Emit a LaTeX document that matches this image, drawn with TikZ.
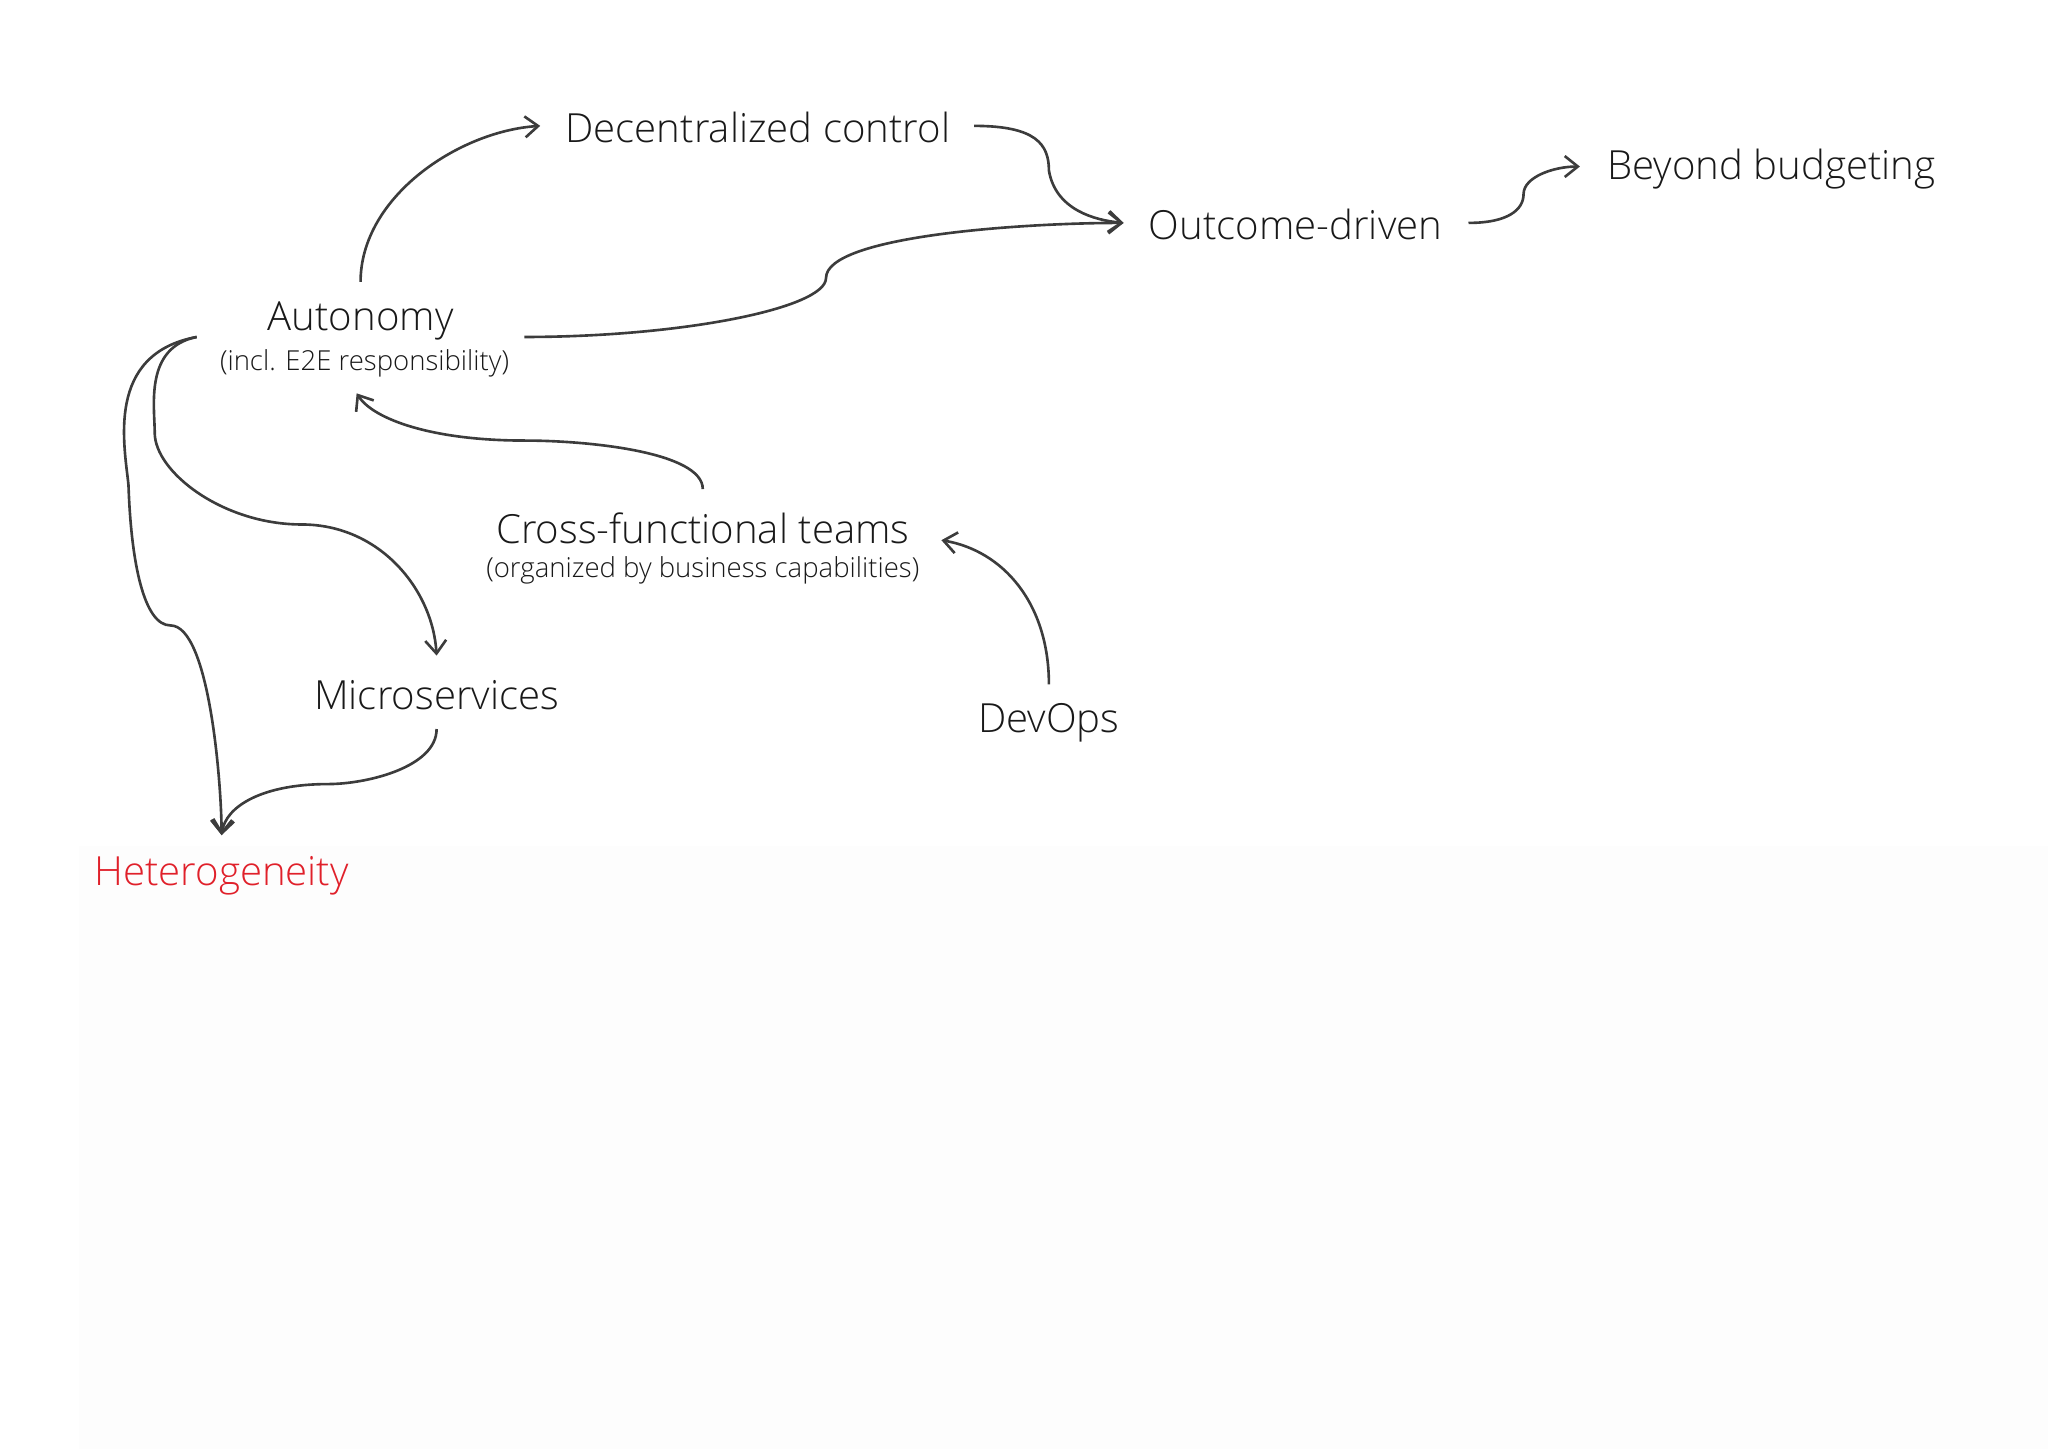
\documentclass[tikz,border=0pt]{standalone}
\usepackage{fontspec}
\setmainfont{Open Sans Light}[BoldFont={Open Sans}]
\usetikzlibrary{arrows.meta}
\definecolor{ln}{HTML}{3C3C3C}
\definecolor{hred}{HTML}{E0202A}
\tikzset{
 lbl/.style={font=\fontsize{15.3}{17}\selectfont, text=black!90, inner sep=1pt},
 sub/.style={font=\fontsize{10.5}{12}\selectfont, text=black!90, inner sep=1pt},
 con/.style={draw=ln, line width=1pt, -{Straight Barb[length=5pt,width=8pt,line width=1pt]}},
}
\begin{document}
\begin{tikzpicture}[x=0.5pt,y=-0.5pt]
\useasboundingbox (0,0) rectangle (1562,1105);
\fill[black!0.8] (60,645) rectangle (1562,1105);
\node[lbl] (dec) at (578,97) {Decentralized control};
\node[lbl] (out) at (988,171) {Outcome-driven};
\node[lbl] (bey) at (1351,129) {Beyond budgeting};
\node[lbl] (aut) at (275,245) {Autonomy};
\node[sub] (auts) at (278,277) {(incl. E2E responsibility)};
\node[lbl] (cft) at (536,403) {Cross-functional teams};
\node[sub] (cfts) at (536,435) {(organized by business capabilities)};
\node[lbl] (mic) at (333,530) {Microservices};
\node[lbl] (dev) at (800,551) {DevOps};
\node[lbl,text=hred] (het) at (169,668) {Heterogeneity};
\coordinate (autT) at (275,215);
\coordinate (autR) at (400,257);
\coordinate (autL) at (150,257);
\coordinate (decL) at (412,96);
\coordinate (decR) at (743,96);
\coordinate (outL) at (857,170);
\coordinate (outR) at (1120,170);
\coordinate (beyL) at (1205,127);
\coordinate (cftT) at (536,373);
\coordinate (autB) at (272,300);
\coordinate (devT) at (800,522);
\coordinate (cftR) at (718,412);
\coordinate (micT) at (333,500);
\coordinate (micB) at (333,556);
\coordinate (hetT) at (169,637);
\draw[con] (autT) .. controls (275,150) and (350,100) .. (decL);
\draw[con] (decR) .. controls (790,96) and (800,110) .. (800,130) .. controls (805,160) and (835,168) .. (outL);
\draw[con] (outR) .. controls (1150,170) and (1162,160) .. (1162,148) .. controls (1162,135) and (1185,127) .. (beyL);
\draw[con] (autR) .. controls (520,257) and (630,235) .. (630,212) .. controls (630,180) and (780,170) .. (outL);
\draw[con] (cftT) .. controls (536,345) and (450,336) .. (400,336) .. controls (330,336) and (285,320) .. (autB);
\draw[con] (devT) .. controls (800,460) and (765,420) .. (cftR);
\draw[con] (autL) .. controls (110,265) and (118,310) .. (118,330) .. controls (118,360) and (170,400) .. (230,400) .. controls (290,400) and (330,450) .. (micT);
\draw[con] (autL) .. controls (80,270) and (95,340) .. (98,370) .. controls (100,430) and (110,477) .. (130,477) .. controls (160,477) and (169,600) .. (hetT);
\draw[con] (micB) .. controls (333,585) and (280,598) .. (250,598) .. controls (200,598) and (172,615) .. (hetT);
\end{tikzpicture}
\end{document}
